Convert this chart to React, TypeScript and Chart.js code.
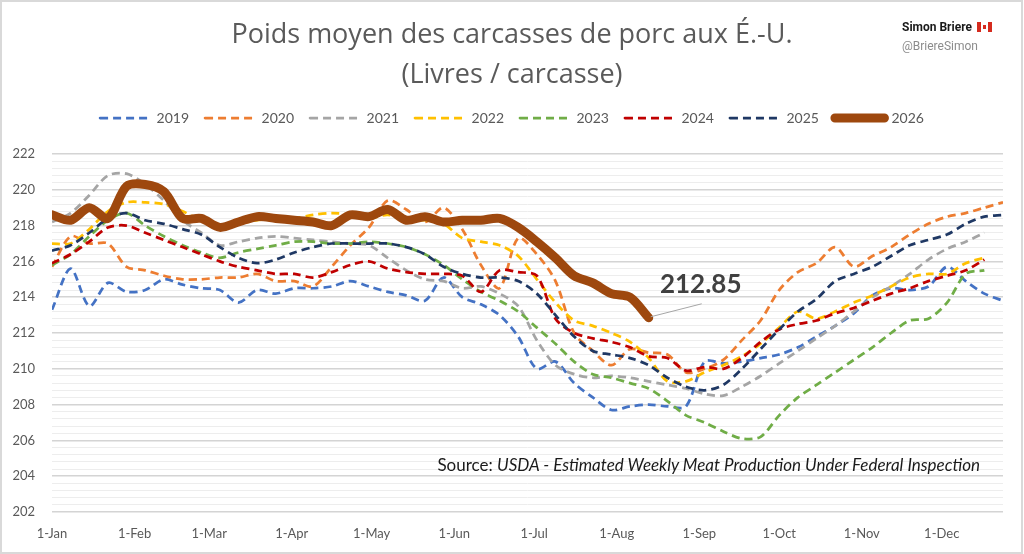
import { useEffect, useRef } from "react"
import { Chart, registerables } from "chart.js"

Chart.register(...registerables)

const FONT = "Lato, 'Open Sans', sans-serif"
const TITLE_FONT = "'Open Sans', Lato, sans-serif"
const TEXT = "#595959"

// Poids moyen hebdomadaire (livres / carcasse), semaine 1 = 1-Jan
const years = ["2019", "2020", "2021", "2022", "2023", "2024", "2025", "2026"]
const colors = ["#4472C4", "#ED7D31", "#A5A5A5", "#FFC000", "#70AD47", "#C00000", "#1F3864", "#9E480E"]

const monthDays = [0, 31, 59, 90, 120, 151, 181, 212, 243, 273, 304, 334]
const monthLabels = ["1-Jan", "1-Feb", "1-Mar", "1-Apr", "1-May", "1-Jun", "1-Jul", "1-Aug", "1-Sep", "1-Oct", "1-Nov", "1-Dec"]

const w2019 = [213.3, 215.6, 213.5, 214.8, 214.3, 214.4, 215.0, 214.7, 214.5, 214.4, 213.7, 214.4, 214.2, 214.5, 214.5, 214.6, 214.9, 214.6, 214.3, 214.1, 213.8, 215.1, 214.0, 213.6, 213.0, 211.8, 210.0, 210.4, 209.2, 208.4, 207.7, 207.9, 208.0, 207.9, 207.9, 210.4, 210.3, 210.4, 210.6, 210.8, 211.2, 211.8, 212.4, 213.1, 214.1, 214.5, 214.4, 214.6, 215.7, 214.9, 214.2, 213.8]
const w2020 = [215.7, 217.4, 217.0, 217.0, 215.7, 215.5, 215.2, 215.0, 215.0, 215.1, 215.1, 215.3, 214.9, 214.9, 214.6, 215.7, 216.9, 217.9, 219.4, 218.9, 218.2, 219.0, 217.8, 215.8, 214.5, 217.3, 216.4, 214.9, 212.0, 211.0, 210.2, 211.1, 210.9, 210.8, 209.8, 210.0, 210.5, 211.6, 212.7, 214.4, 215.4, 215.9, 216.8, 215.7, 216.3, 216.8, 217.5, 218.1, 218.5, 218.7, 219.0, 219.3]
const w2021 = [218.2, 218.7, 219.7, 220.8, 220.9, 220.3, 219.4, 218.3, 217.6, 216.9, 217.1, 217.3, 217.4, 217.3, 217.2, 217.1, 217.0, 216.9, 216.2, 215.5, 215.0, 214.9, 214.5, 214.6, 214.2, 213.5, 211.6, 210.2, 209.7, 209.5, 209.6, 209.5, 209.3, 209.1, 208.9, 208.6, 208.5, 209.0, 209.6, 210.3, 211.0, 211.7, 212.4, 213.2, 214.0, 214.6, 215.3, 216.1, 216.7, 217.1, 217.6]
const w2022 = [217.0, 217.0, 217.8, 218.8, 219.3, 219.3, 219.2, 218.8, 218.3, 218.0, 218.1, 218.3, 218.4, 218.4, 218.6, 218.7, 218.6, 218.4, 218.6, 218.3, 218.3, 218.1, 217.3, 217.1, 216.9, 216.3, 215.0, 213.7, 212.7, 212.4, 212.0, 211.5, 210.6, 209.3, 209.3, 209.8, 210.2, 210.7, 211.4, 212.3, 213.2, 212.8, 213.2, 213.7, 214.1, 214.6, 215.1, 215.3, 215.3, 215.9, 216.2]
const w2023 = [215.8, 216.4, 217.4, 218.3, 218.7, 218.0, 217.4, 216.9, 216.5, 216.2, 216.5, 216.7, 216.9, 217.1, 217.1, 217.0, 217.0, 217.1, 217.0, 216.8, 216.4, 215.8, 215.0, 214.3, 213.8, 213.2, 212.3, 211.4, 210.4, 209.7, 209.5, 209.2, 208.9, 208.2, 207.4, 207.0, 206.5, 206.1, 206.2, 207.4, 208.4, 209.1, 209.8, 210.5, 211.2, 212.0, 212.7, 212.8, 213.7, 215.3, 215.5]
const w2024 = [215.9, 216.4, 217.1, 217.9, 218.0, 217.6, 217.2, 216.8, 216.4, 216.0, 215.7, 215.5, 215.3, 215.3, 215.1, 215.4, 215.8, 216.0, 215.6, 215.4, 215.3, 215.3, 215.2, 214.3, 215.5, 215.4, 215.2, 212.8, 212.0, 211.7, 211.5, 211.2, 210.7, 210.6, 209.9, 210.1, 210.0, 210.6, 211.5, 212.2, 212.5, 212.7, 213.1, 213.4, 213.8, 214.2, 214.5, 214.9, 215.2, 215.5, 216.1]
const w2025 = [216.6, 216.9, 217.6, 218.4, 218.7, 218.3, 218.1, 217.8, 217.5, 216.8, 216.2, 215.9, 216.1, 216.5, 216.8, 217.0, 217.0, 217.0, 217.0, 216.8, 216.4, 215.7, 215.3, 215.1, 215.1, 214.9, 214.2, 213.0, 211.8, 211.0, 210.8, 210.6, 210.2, 209.5, 209.0, 208.8, 209.1, 210.0, 211.1, 212.2, 213.2, 213.9, 214.9, 215.3, 215.7, 216.3, 216.9, 217.2, 217.5, 218.1, 218.5, 218.6]
const w2026 = [218.6, 218.3, 219.0, 218.4, 220.2, 220.3, 219.9, 218.4, 218.4, 217.9, 218.2, 218.5, 218.4, 218.3, 218.2, 218.0, 218.6, 218.5, 218.9, 218.3, 218.5, 218.2, 218.3, 218.3, 218.4, 217.9, 217.1, 216.2, 215.2, 214.8, 214.2, 214.0, 212.85]

const series = [w2019, w2020, w2021, w2022, w2023, w2024, w2025, w2026]

const isMajor = (v: number) => Math.abs(v / 2 - Math.round(v / 2)) < 1e-6

// Last-value callout for 2026
const lastValueLabel = {
  id: "lastValueLabel",
  afterDatasetsDraw(chart: any) {
    const idx = series.length - 1
    const pts = chart.getDatasetMeta(idx).data
    const last = pts[pts.length - 1]
    if (!last) return
    const value = series[idx][series[idx].length - 1]
    const ctx = chart.ctx
    ctx.save()
    ctx.strokeStyle = "#A6A6A6"
    ctx.lineWidth = 1
    ctx.beginPath()
    ctx.moveTo(last.x + 2, last.y - 1)
    ctx.lineTo(last.x + 53, last.y - 14)
    ctx.stroke()
    ctx.font = `bold 26px ${FONT}`
    ctx.fillStyle = "#404040"
    ctx.textAlign = "center"
    ctx.textBaseline = "middle"
    ctx.fillText(value.toFixed(2), last.x + 52, last.y - 33)
    ctx.restore()
  },
}

export default function App() {
  const chartRef = useRef<HTMLCanvasElement>(null)
  const chartInstance = useRef<Chart | null>(null)

  useEffect(() => {
    if (!chartRef.current) return
    if (chartInstance.current) chartInstance.current.destroy()
    const ctx = chartRef.current.getContext("2d")
    if (!ctx) return

    const datasets = years.map((year, i) => {
      const current = i === years.length - 1
      return {
        label: year,
        data: series[i].map((v, w) => ({ x: w * 7, y: v })),
        borderColor: colors[i],
        backgroundColor: colors[i],
        borderWidth: current ? 9 : 2.75,
        borderDash: current ? [] : [8, 5],
        borderCapStyle: current ? "round" : "butt",
        borderJoinStyle: "round",
        pointRadius: 0,
        tension: 0.3,
        order: years.length - i,
      }
    })

    chartInstance.current = new Chart(ctx, {
      type: "line",
      data: { datasets } as any,
      options: {
        responsive: false,
        animation: false,
        events: [],
        layout: { padding: 0 },
        plugins: {
          tooltip: { enabled: false },
          title: {
            display: true,
            text: ["Poids moyen des carcasses de porc aux É.-U.", "(Livres / carcasse)"],
            color: "#5A5A5A",
            font: { family: TITLE_FONT, size: 27, weight: "400", lineHeight: "40px" } as any,
            padding: { top: 15, bottom: 0 },
          },
          legend: {
            position: "top",
            labels: {
              boxWidth: 49.5,
              boxHeight: 0,
              padding: 16,
              color: TEXT,
              font: { family: FONT, size: 14 },
              sort: (a: any, b: any) => a.datasetIndex - b.datasetIndex,
            },
          },
        },
        scales: {
          x: {
            type: "linear",
            min: 0,
            max: 357,
            afterBuildTicks: (scale: any) => {
              scale.ticks = monthDays.map((v) => ({ value: v }))
            },
            afterFit: (scale: any) => {
              scale.height = 42
            },
            ticks: {
              autoSkip: false,
              maxRotation: 0,
              padding: 14,
              color: TEXT,
              font: { family: FONT, size: 13 },
              callback: (_v: any, i: number) => monthLabels[i],
            },
            grid: { display: false, drawTicks: false },
            border: { display: false },
          },
          y: {
            type: "linear",
            min: 202,
            max: 222,
            afterFit: (scale: any) => {
              scale.width = 52
            },
            ticks: {
              stepSize: 0.4,
              autoSkip: false,
              padding: 17,
              color: TEXT,
              font: { family: FONT, size: 13 },
              callback: (v: any) => (isMajor(Number(v)) ? String(Math.round(Number(v))) : ""),
            },
            grid: {
              drawTicks: false,
              color: (c: any) => (c.tick && isMajor(c.tick.value) ? "#D4D4D4" : "#EDEDED"),
              lineWidth: (c: any) => (c.tick && isMajor(c.tick.value) ? 1.5 : 1),
            },
            border: { display: false },
          },
          padTop: {
            type: "linear",
            position: "top",
            afterFit: (scale: any) => {
              scale.height = 19
            },
            ticks: { display: false },
            grid: { display: false, drawTicks: false },
            border: { display: false },
          },
          padRight: {
            type: "linear",
            position: "right",
            afterFit: (scale: any) => {
              scale.width = 21
            },
            ticks: { display: false },
            grid: { display: false, drawTicks: false },
            border: { display: false },
          },
        } as any,
      },
      plugins: [lastValueLabel],
    })

    return () => {
      if (chartInstance.current) {
        chartInstance.current.destroy()
        chartInstance.current = null
      }
    }
  }, [])

  return (
    <div style={{ position: "absolute", left: 0, top: 0, width: 1024, height: 554, background: "#fff", overflow: "hidden" }}>
      <canvas ref={chartRef} width={1024} height={554} style={{ display: "block" }} />
      <div
        style={{
          position: "absolute",
          left: 0,
          top: 0,
          width: 1023,
          height: 554,
          boxSizing: "border-box",
          border: "2px solid #D9D9D9",
          pointerEvents: "none",
        }}
      />
      <div style={{ position: "absolute", left: 902, top: 19, fontFamily: "Roboto, sans-serif", fontSize: 12, lineHeight: "16px" }}>
        <div style={{ fontWeight: 700, color: "#1a1a1a", whiteSpace: "nowrap" }}>
          Simon Briere
          <span
            style={{
              display: "inline-block",
              width: 15,
              height: 10,
              marginLeft: 5,
              verticalAlign: "-1px",
              position: "relative",
              background: "linear-gradient(to right, #D52B1E 26%, #fff 26%, #fff 74%, #D52B1E 74%)",
            }}
          >
            <span style={{ position: "absolute", left: 6, top: 3, width: 3, height: 4, background: "#D52B1E" }} />
          </span>
        </div>
        <div style={{ color: "#8C8C8C", marginTop: 3 }}>@BriereSimon</div>
      </div>
      <div
        style={{
          position: "absolute",
          right: 44,
          top: 454,
          fontFamily: FONT,
          fontSize: 17,
          lineHeight: "22px",
          color: "#1a1a1a",
          whiteSpace: "nowrap",
        }}
      >
        Source: <i>USDA - Estimated Weekly Meat Production Under Federal Inspection</i>
      </div>
    </div>
  )
}
